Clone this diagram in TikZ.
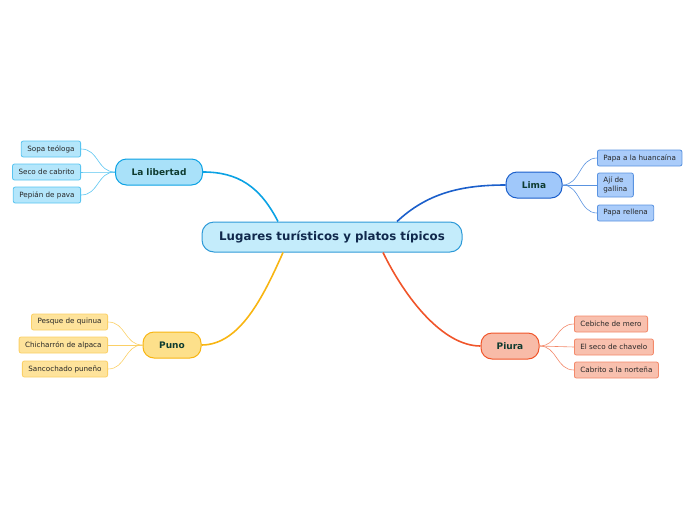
\documentclass[tikz,border=0pt]{standalone}
\usepackage{fontspec}
\setmainfont{DejaVu Sans}
\usepackage{tikz}
\usetikzlibrary{positioning}

\definecolor{rootfill}{HTML}{C4ECFB}
\definecolor{rootline}{HTML}{2E9AD8}
\definecolor{roottext}{HTML}{10284C}
\definecolor{topictext}{HTML}{0E3B30}
\definecolor{libfill}{HTML}{A9E1F9}
\definecolor{libline}{HTML}{0BA2E4}
\definecolor{libleaf}{HTML}{B4E6FB}
\definecolor{libleafline}{HTML}{58C4F0}
\definecolor{limafill}{HTML}{A0C8FA}
\definecolor{limaline}{HTML}{1B5FCB}
\definecolor{limaleaf}{HTML}{AACCFA}
\definecolor{limaleafline}{HTML}{5A93E0}
\definecolor{punofill}{HTML}{FDE08B}
\definecolor{punoline}{HTML}{F8B512}
\definecolor{punoleaf}{HTML}{FEE39B}
\definecolor{punoleafline}{HTML}{FBD066}
\definecolor{piurafill}{HTML}{F8BBA8}
\definecolor{piuraline}{HTML}{F0552A}
\definecolor{piuraleaf}{HTML}{F8C0AE}
\definecolor{piuraleafline}{HTML}{F3896A}

\begin{document}
\begin{tikzpicture}[x=1pt,y=-1pt,
    rootbox/.style={draw=rootline,fill=rootfill,line width=1pt,rounded corners=12pt,
      minimum width=260pt,minimum height=30pt,text=roottext,font=\fontsize{11.8}{14}\selectfont\bfseries},
    topic/.style={line width=1pt,rounded corners=11pt,minimum height=26pt,inner xsep=8pt,
      text=topictext,font=\fontsize{9}{11}\selectfont\bfseries},
    leaf/.style={line width=0.8pt,rounded corners=2pt,minimum height=16pt,inner xsep=6pt,
      inner ysep=2pt,text=black!85,font=\fontsize{7.2}{9}\selectfont},
    branch/.style={line width=1.6pt},
    twig/.style={line width=0.6pt}]
  \useasboundingbox (0,0) rectangle (696,520);

  % central topic
  \node[rootbox] (root) at (332,237) {Lugares turísticos y platos típicos};

  % main topics
  \node[topic,draw=libline,fill=libfill,minimum width=87pt] (lib) at (159,172) {La libertad};
  \node[topic,draw=limaline,fill=limafill,minimum width=56pt] (lima) at (534,185) {Lima};
  \node[topic,draw=punoline,fill=punofill,minimum width=58pt] (puno) at (172,345) {Puno};
  \node[topic,draw=piuraline,fill=piurafill,minimum width=58pt] (piura) at (510,346) {Piura};

  % La libertad
  \node[leaf,draw=libleafline,fill=libleaf,anchor=east] (lib1) at (81,149) {Sopa teóloga};
  \node[leaf,draw=libleafline,fill=libleaf,anchor=east] (lib2) at (81,172) {Seco de cabrito};
  \node[leaf,draw=libleafline,fill=libleaf,anchor=east] (lib3) at (81,195) {Pepián de pava};

  % Lima
  \node[leaf,draw=limaleafline,fill=limaleaf,anchor=west] (lima1) at (597,158) {Papa a la huancaína};
  \node[leaf,draw=limaleafline,fill=limaleaf,anchor=west,align=left,minimum height=24pt] (lima2) at (597,185) {Ají de\\gallina};
  \node[leaf,draw=limaleafline,fill=limaleaf,anchor=west] (lima3) at (597,213) {Papa rellena};

  % Puno
  \node[leaf,draw=punoleafline,fill=punoleaf,anchor=east] (puno1) at (108,322) {Pesque de quinua};
  \node[leaf,draw=punoleafline,fill=punoleaf,anchor=east] (puno2) at (108,345) {Chicharrón de alpaca};
  \node[leaf,draw=punoleafline,fill=punoleaf,anchor=east] (puno3) at (108,369) {Sancochado puneño};

  % Piura
  \node[leaf,draw=piuraleafline,fill=piuraleaf,anchor=west] (piura1) at (574,324) {Cebiche de mero};
  \node[leaf,draw=piuraleafline,fill=piuraleaf,anchor=west] (piura2) at (574,347) {El seco de chavelo};
  \node[leaf,draw=piuraleafline,fill=piuraleaf,anchor=west] (piura3) at (574,370) {Cabrito a la norteña};

  % branches
  \draw[branch,libline] ([xshift=-54pt]root.north) .. controls +(-18,-35) and +(35,0) .. (lib.east);
  \draw[branch,limaline] ([xshift=65pt]root.north) .. controls +(30,-28) and +(-45,0) .. (lima.west);
  \draw[branch,punoline] ([xshift=-49pt]root.south) .. controls +(-20,45) and +(38,0) .. (puno.east);
  \draw[branch,piuraline] ([xshift=51pt]root.south) .. controls +(22,45) and +(-38,0) .. (piura.west);

  % twigs
  \foreach \k in {1,2,3} {
    \draw[twig,libleafline] (lib.west) .. controls +(-18,0) and +(18,0) .. (lib\k.east);
    \draw[twig,limaleafline] (lima.east) .. controls +(18,0) and +(-18,0) .. (lima\k.west);
    \draw[twig,punoleafline] (puno.west) .. controls +(-18,0) and +(18,0) .. (puno\k.east);
    \draw[twig,piuraleafline] (piura.east) .. controls +(18,0) and +(-18,0) .. (piura\k.west);
  }
\end{tikzpicture}
\end{document}
